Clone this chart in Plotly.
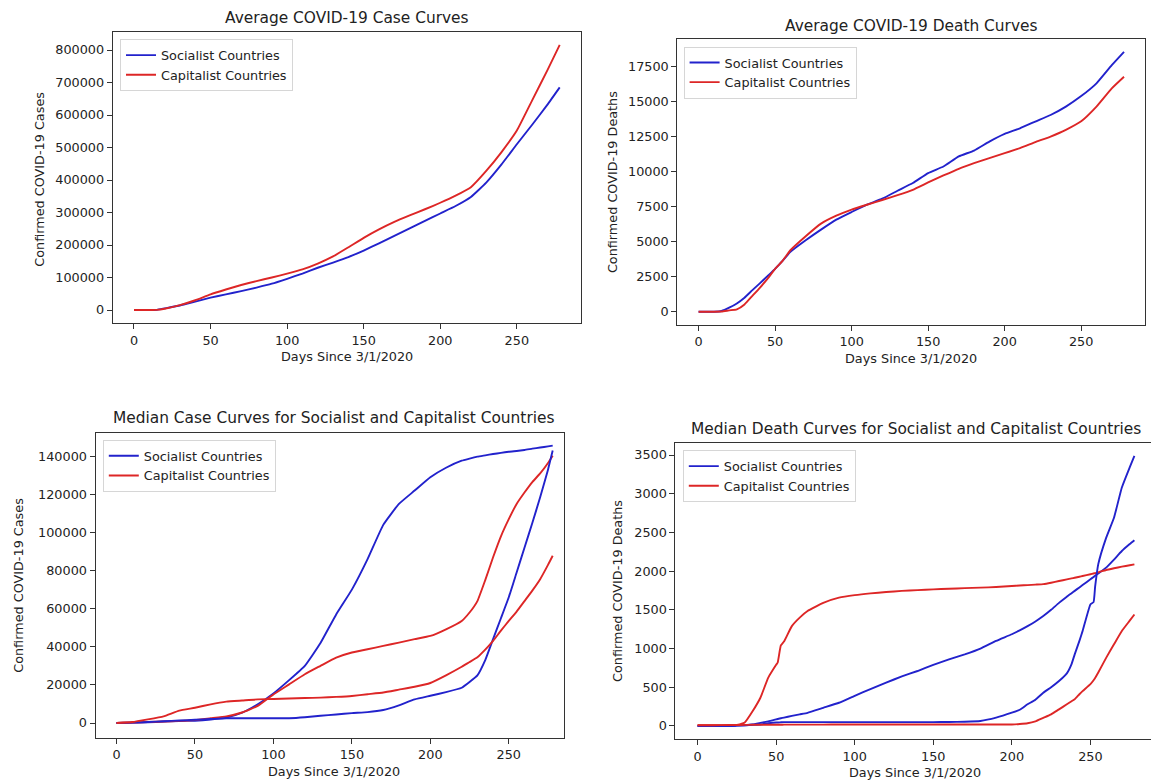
import plotly.graph_objects as go

# ---------------- data ----------------
days_avg_case = [0, 10, 15, 20, 30, 40, 50, 60, 70, 80, 90, 100, 110, 120, 130, 140, 150, 160, 170, 180,
                 190, 200, 210, 220, 230, 240, 250, 260, 270, 278]
avg_case_soc = [0, 0, 500, 5000, 14000, 26000, 38000, 48000, 58000, 69000, 81000, 96000, 112000, 130000,
                146000, 163000, 183000, 205000, 228000, 251000, 274000, 297000, 320000, 348000, 392000,
                448000, 510000, 570000, 632000, 685000]
avg_case_cap = [0, 0, 500, 4000, 15000, 30000, 48000, 63000, 77000, 89000, 100000, 112000, 125000, 143000,
                165000, 193000, 222000, 248000, 271000, 291000, 310000, 330000, 352000, 378000, 428000,
                486000, 552000, 645000, 738000, 816000]

days_avg_death = [0, 10, 15, 20, 25, 30, 35, 40, 45, 50, 55, 60, 70, 80, 90, 100, 110, 120, 130, 140, 150,
                  160, 170, 180, 190, 200, 210, 220, 230, 240, 250, 260, 270, 278]
avg_death_soc = [0, 0, 50, 285, 590, 1000, 1520, 2020, 2540, 3060, 3650, 4270, 5100, 5860, 6575, 7120, 7640,
                 8070, 8640, 9190, 9900, 10370, 11090, 11510, 12150, 12700, 13100, 13580, 14050, 14650,
                 15400, 16310, 17610, 18560]
avg_death_cap = [0, 0, 10, 95, 170, 520, 1115, 1710, 2350, 3060, 3650, 4390, 5390, 6290, 6860, 7290, 7640,
                 7980, 8330, 8710, 9230, 9730, 10210, 10610, 10970, 11320, 11680, 12110, 12510, 12990,
                 13600, 14650, 15950, 16780]

days_med_case = [0, 10, 20, 30, 40, 50, 60, 70, 80, 90, 100, 110, 120, 130, 140, 150, 160, 170, 180, 190,
                 200, 210, 220, 225, 230, 235, 240, 245, 250, 255, 260, 265, 270, 275, 278]
med_case_soc_a = [0, 200, 400, 700, 1000, 1200, 1800, 2800, 5400, 9800, 15500, 22500, 30000, 42000, 57000,
                  70000, 86000, 104000, 115000, 122000, 129000, 134000, 137700, 138800, 139800, 140500,
                  141200, 141800, 142400, 142800, 143300, 144000, 144600, 145200, 145600]
med_case_soc_b = [0, 200, 500, 900, 1300, 1700, 2100, 2500, 2500, 2500, 2500, 2500, 3000, 3800, 4500, 5200,
                  5700, 6800, 9300, 12400, 14300, 16200, 18500, 21500, 25000, 33000, 44000, 55000, 66000,
                  79000, 92000, 105000, 118500, 133000, 143000]
med_case_cap_a = [0, 200, 500, 800, 1100, 1500, 2500, 3500, 5500, 9000, 15000, 20300, 25600, 30000, 34300,
                  37000, 38700, 40500, 42200, 44000, 45700, 49200, 53600, 58000, 64000, 75000, 87000, 98000,
                  107000, 115000, 121000, 126500, 131000, 136500, 140300]
med_case_cap_b = [0, 500, 1900, 3500, 6500, 8000, 9800, 11200, 11800, 12400, 12600, 12900, 13100, 13300,
                  13700, 14200, 15100, 16000, 17500, 19000, 21000, 25000, 29500, 32000, 34500, 38500, 43100,
                  48500, 53600, 58500, 64000, 69500, 75500, 83000, 87800]

days_med_death = [0, 10, 20, 25, 30, 35, 40, 45, 50, 51, 53, 55, 60, 65, 70, 80, 90, 100, 110, 120, 130,
                  140, 150, 160, 170, 180, 190, 200, 205, 210, 215, 220, 225, 230, 235, 238, 240, 243, 245,
                  250, 252, 253, 255, 260, 265, 270, 275, 278]
med_death_soc_a = [0, 0, 0, 5, 10, 20, 40, 60, 85, 90, 100, 108, 130, 150, 170, 235, 300, 390, 475, 560,
                   640, 710, 790, 860, 925, 1000, 1100, 1185, 1235, 1290, 1350, 1420, 1500, 1590, 1670,
                   1715, 1745, 1790, 1820, 1895, 1925, 1940, 1970, 2045, 2150, 2260, 2350, 2400]
med_death_soc_b = [0, 0, 0, 5, 10, 15, 20, 35, 45, 45, 48, 50, 50, 50, 50, 50, 50, 50, 50, 50, 50, 50, 50,
                   52, 55, 65, 108, 172, 210, 280, 340, 430, 500, 580, 680, 800, 925, 1100, 1225, 1570,
                   1600, 1800, 2090, 2430, 2690, 3080, 3340, 3490]
med_death_cap_a = [10, 10, 10, 15, 45, 190, 365, 625, 790, 820, 1040, 1090, 1290, 1400, 1485, 1590, 1657,
                   1690, 1713, 1730, 1745, 1755, 1765, 1772, 1780, 1787, 1795, 1808, 1814, 1820, 1826,
                   1832, 1850, 1872, 1893, 1906, 1915, 1928, 1937, 1960, 1970, 1975, 1985, 2015, 2037,
                   2058, 2076, 2088]
med_death_cap_b = [10, 10, 12, 12, 14, 15, 15, 16, 16, 16, 16, 17, 17, 18, 18, 18, 19, 19, 19, 20, 20, 20,
                   20, 20, 20, 20, 20, 20, 25, 35, 60, 105, 150, 215, 280, 320, 345, 410, 450, 540, 590,
                   620, 690, 880, 1055, 1227, 1360, 1440]

x_ticks = [0, 50, 100, 150, 200, 250]
titles = ["Average COVID-19 Case Curves", "Average COVID-19 Death Curves",
          "Median Case Curves for Socialist and Capitalist Countries",
          "Median Death Curves for Socialist and Capitalist Countries"]
x_label = "Days Since 3/1/2020"
y_labels = ["Confirmed COVID-19 Cases", "Confirmed COVID-19 Deaths",
            "Confirmed COVID-19 Cases", "Confirmed COVID-19 Deaths"]
names = ["Socialist Countries", "Capitalist Countries"]

# ---------------- styling ----------------
WIN_W, WIN_H = 1159, 782
OFF = 8                      # default page body margin
W, H = WIN_W - OFF, WIN_H - OFF
BLUE = "#2222cc"
RED = "#dd2626"
FONT = "DejaVu Sans"
TXT = "#222222"


def px_x(p):
    return (p - OFF) / W


def px_y(p):
    return 1 - (p - OFF) / H


fig = go.Figure()

panels = [
    dict(ax="", leg="legend", series=[(days_avg_case, avg_case_soc, 0), (days_avg_case, avg_case_cap, 1)]),
    dict(ax="2", leg="legend2", series=[(days_avg_death, avg_death_soc, 0), (days_avg_death, avg_death_cap, 1)]),
    dict(ax="3", leg="legend3", series=[(days_med_case, med_case_soc_a, 0), (days_med_case, med_case_cap_a, 1),
                                        (days_med_case, med_case_soc_b, 0), (days_med_case, med_case_cap_b, 1)]),
    dict(ax="4", leg="legend4", series=[(days_med_death, med_death_soc_a, 0), (days_med_death, med_death_cap_a, 1),
                                        (days_med_death, med_death_soc_b, 0), (days_med_death, med_death_cap_b, 1)]),
]

for p in panels:
    shown = set()
    for xs, ys, k in p["series"]:
        fig.add_trace(go.Scatter(
            x=xs, y=ys, mode="lines", name=names[k],
            line=dict(color=[BLUE, RED][k], width=1.9, shape="spline", smoothing=0.4),
            xaxis="x" + p["ax"], yaxis="y" + p["ax"],
            legend=p["leg"], showlegend=k not in shown, hoverinfo="skip"))
        shown.add(k)

# axis geometry (window pixels): left, right, top, bottom ; ranges
geo = [
    dict(l=112.7, r=581.0, t=32.3, b=323.3, xr=[-13.9, 291.9], yr=[-40920, 854460],
         yt=list(range(0, 800001, 100000))),
    dict(l=677.3, r=1145.3, t=39.3, b=325.0, xr=[-13.9, 291.9], yr=[-950, 19457],
         yt=list(range(0, 17501, 2500))),
    dict(l=95.5, r=564.0, t=432.7, b=737.7, xr=[-13.4, 285.2], yr=[-7717, 152390],
         yt=list(range(0, 140001, 20000))),
    dict(l=675.4, r=1155.0, t=442.7, b=739.3, xr=[-14.1, 291.1], yr=[-172, 3659],
         yt=list(range(0, 3501, 500))),
]

axis_common = dict(showline=True, mirror=True, linecolor="#333333", linewidth=1,
                   ticks="outside", ticklen=5, tickwidth=1, tickcolor="#333333",
                   showgrid=False, zeroline=False, fixedrange=True,
                   tickfont=dict(family=FONT, size=12.8, color=TXT))

layout = {}
for i, g in enumerate(geo):
    sfx = "" if i == 0 else str(i + 1)
    layout["xaxis" + sfx] = dict(domain=[px_x(g["l"]), px_x(g["r"])], range=g["xr"],
                                 anchor="y" + sfx, tickvals=x_ticks, **axis_common)
    layout["yaxis" + sfx] = dict(domain=[px_y(g["b"]), px_y(g["t"])], range=g["yr"],
                                 anchor="x" + sfx, tickvals=g["yt"], tickformat="d", **axis_common)

legend_pos = [(120.0, 39.3), (683.6, 46.7), (102.8, 440.0), (682.8, 450.3)]
for i, (lx, ly) in enumerate(legend_pos):
    key = "legend" if i == 0 else "legend" + str(i + 1)
    layout[key] = dict(x=px_x(lx), y=px_y(ly), xanchor="left", yanchor="top",
                       xref="paper", yref="paper",
                       bgcolor="rgba(255,255,255,0.85)", bordercolor="#d6d6d6", borderwidth=1,
                       font=dict(family=FONT, size=12.8, color=TXT), tracegroupgap=0,
                       itemwidth=30)

annotations = []
title_pos = [(346.6, 18.3), (911.3, 26.0), (333.5, 417.7), (915.6, 428.7)]
for t, (tx, ty) in zip(titles, title_pos):
    annotations.append(dict(text=t, x=px_x(tx), y=px_y(ty), xref="paper", yref="paper",
                            xanchor="center", yanchor="middle", showarrow=False,
                            font=dict(family=FONT, size=15.4, color=TXT)))
xlab_pos = [(347.2, 356.7), (911.3, 358.3), (334.3, 771.0), (915.0, 772.7)]
for (tx, ty) in xlab_pos:
    annotations.append(dict(text=x_label, x=px_x(tx), y=px_y(ty), xref="paper", yref="paper",
                            xanchor="center", yanchor="middle", showarrow=False,
                            font=dict(family=FONT, size=12.8, color=TXT)))
ylab_pos = [(40.0, 179.7), (612.6, 182.5), (17.8, 585.0), (617.0, 591.0)]
for lab, (tx, ty) in zip(y_labels, ylab_pos):
    annotations.append(dict(text=lab, x=px_x(tx), y=px_y(ty), xref="paper", yref="paper",
                            xanchor="center", yanchor="middle", showarrow=False, textangle=-90,
                            font=dict(family=FONT, size=12.8, color=TXT)))

fig.update_layout(width=W, height=H, margin=dict(l=0, r=0, t=0, b=0),
                  paper_bgcolor="white", plot_bgcolor="white",
                  font=dict(family=FONT, size=12.8, color=TXT),
                  annotations=annotations, **layout)

fig.write_html("out.html")
